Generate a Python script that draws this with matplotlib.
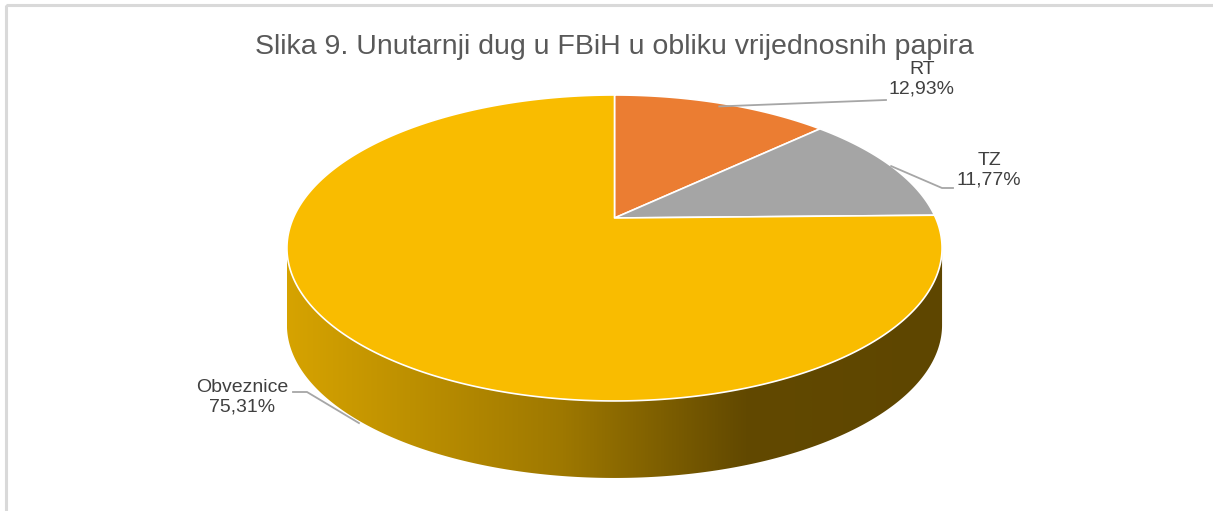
import numpy as np
import matplotlib
matplotlib.use("Agg")
import matplotlib.pyplot as plt
from matplotlib.patches import Polygon, Rectangle
from matplotlib.colors import LinearSegmentedColormap

# ---- data ----
categories = ["RT", "TZ", "Obveznice"]
values = [12.93, 11.77, 75.31]
colors = ["#EB7D32", "#A5A5A5", "#F9BC00"]
title = "Slika 9. Unutarnji dug u FBiH u obliku vrijednosnih papira"

W, H = 1213, 511
fig = plt.figure(figsize=(W / 100, H / 100), dpi=100)
ax = fig.add_axes([0, 0, 1, 1])
ax.set_xlim(0, W)
ax.set_ylim(H, 0)
ax.axis("off")

FONT = ["Liberation Sans", "DejaVu Sans"]

# chart frame
ax.add_patch(Rectangle((6, 5), W + 20, H + 20, fill=False, ec="#D9D9D9", lw=2.2))

# perspective geometry of the 3D pie (pixel space)
cx, cy = 614.5, 218.0
w, h, k = 321.2, 147.1, 0.196
depth = 77.0


def proj(theta_deg, r=1.0):
    t = np.radians(theta_deg)
    u = r * np.cos(t)
    v = r * np.sin(t)
    d = 1 + k * v
    return cx + w * u / d, cy - h * v / d


# angles: start at 12 o'clock, clockwise
total = sum(values)
bounds = [90.0]
for val in values:
    bounds.append(bounds[-1] - 360.0 * val / total)

# ---- side (visible front rim) ----
ths = np.linspace(-200, 20, 8801)
X, Y = proj(ths)
th_left = ths[np.argmin(X)]
th_right = ths[np.argmax(X)]

side_cmap = LinearSegmentedColormap.from_list(
    "side", [(0.0, "#D6A300"), (0.42, "#9E7800"), (0.70, "#624900"), (1.0, "#5E4600")])

for i, (c0, c1) in enumerate(zip(bounds[:-1], bounds[1:])):
    for shift in (-360, 0, 360):
        lo, hi = max(c1 + shift, th_left), min(c0 + shift, th_right)
        if hi <= lo:
            continue
        arc = np.linspace(lo, hi, 600)
        ax_, ay_ = proj(arc)
        px = np.concatenate([ax_, ax_[::-1]])
        py = np.concatenate([ay_, ay_[::-1] + depth])
        poly = Polygon(np.column_stack([px, py]), closed=True, fc="none", ec="none")
        ax.add_patch(poly)
        xl, xr = proj(th_left)[0], proj(th_right)[0]
        grad = np.linspace(0, 1, 512).reshape(1, -1)
        im = ax.imshow(grad, cmap=side_cmap, aspect="auto",
                       extent=[xl, xr, py.max() + 2, py.min() - 2], zorder=1,
                       interpolation="bilinear")
        im.set_clip_path(poly)

# ---- top face wedges ----
for i, (c0, c1) in enumerate(zip(bounds[:-1], bounds[1:])):
    arc = np.linspace(c0, c1, 800)
    ax_, ay_ = proj(arc)
    px = np.concatenate([[cx], ax_])
    py = np.concatenate([[cy], ay_])
    ax.add_patch(Polygon(np.column_stack([px, py]), closed=True, fc=colors[i],
                         ec="white", lw=1.2, zorder=3, joinstyle="round"))

# ---- labels ----
lead = "#A6A6A6"
txtc = "#404040"
fs = 14


def lab(i):
    return f"{categories[i]}\n{values[i]:.2f}".replace(".", ",") + "%"


# RT
mid = (bounds[0] + bounds[1]) / 2
sx, sy = proj(mid, 0.97)
ax.plot([sx, 886], [sy, 100], color=lead, lw=1.3, zorder=4)
ax.text(922, 79, lab(0), ha="center", va="center", fontsize=fs, color=txtc,
        family=FONT, linespacing=1.2)

# TZ
mid = (bounds[1] + bounds[2]) / 2
sx, sy = proj(mid, 1.0)
ax.plot([sx, 942, 953], [sy, 188, 188], color=lead, lw=1.3, zorder=4)
ax.text(989, 170, lab(1), ha="center", va="center", fontsize=fs, color=txtc,
        family=FONT, linespacing=1.2)

# Obveznice
mid = (bounds[2] + bounds[3]) / 2
sx, sy = proj(mid, 1.0)
ax.plot([293, 307, sx + 6], [392, 392, sy + depth + 6], color=lead, lw=1.3, zorder=4)
ax.text(242, 397, lab(2), ha="center", va="center", fontsize=fs, color=txtc,
        family=FONT, linespacing=1.2)

# title
ax.text(614, 47, title, ha="center", va="center", fontsize=20.5, color="#595959",
        family=FONT)

fig.savefig("out.png", dpi=100)
